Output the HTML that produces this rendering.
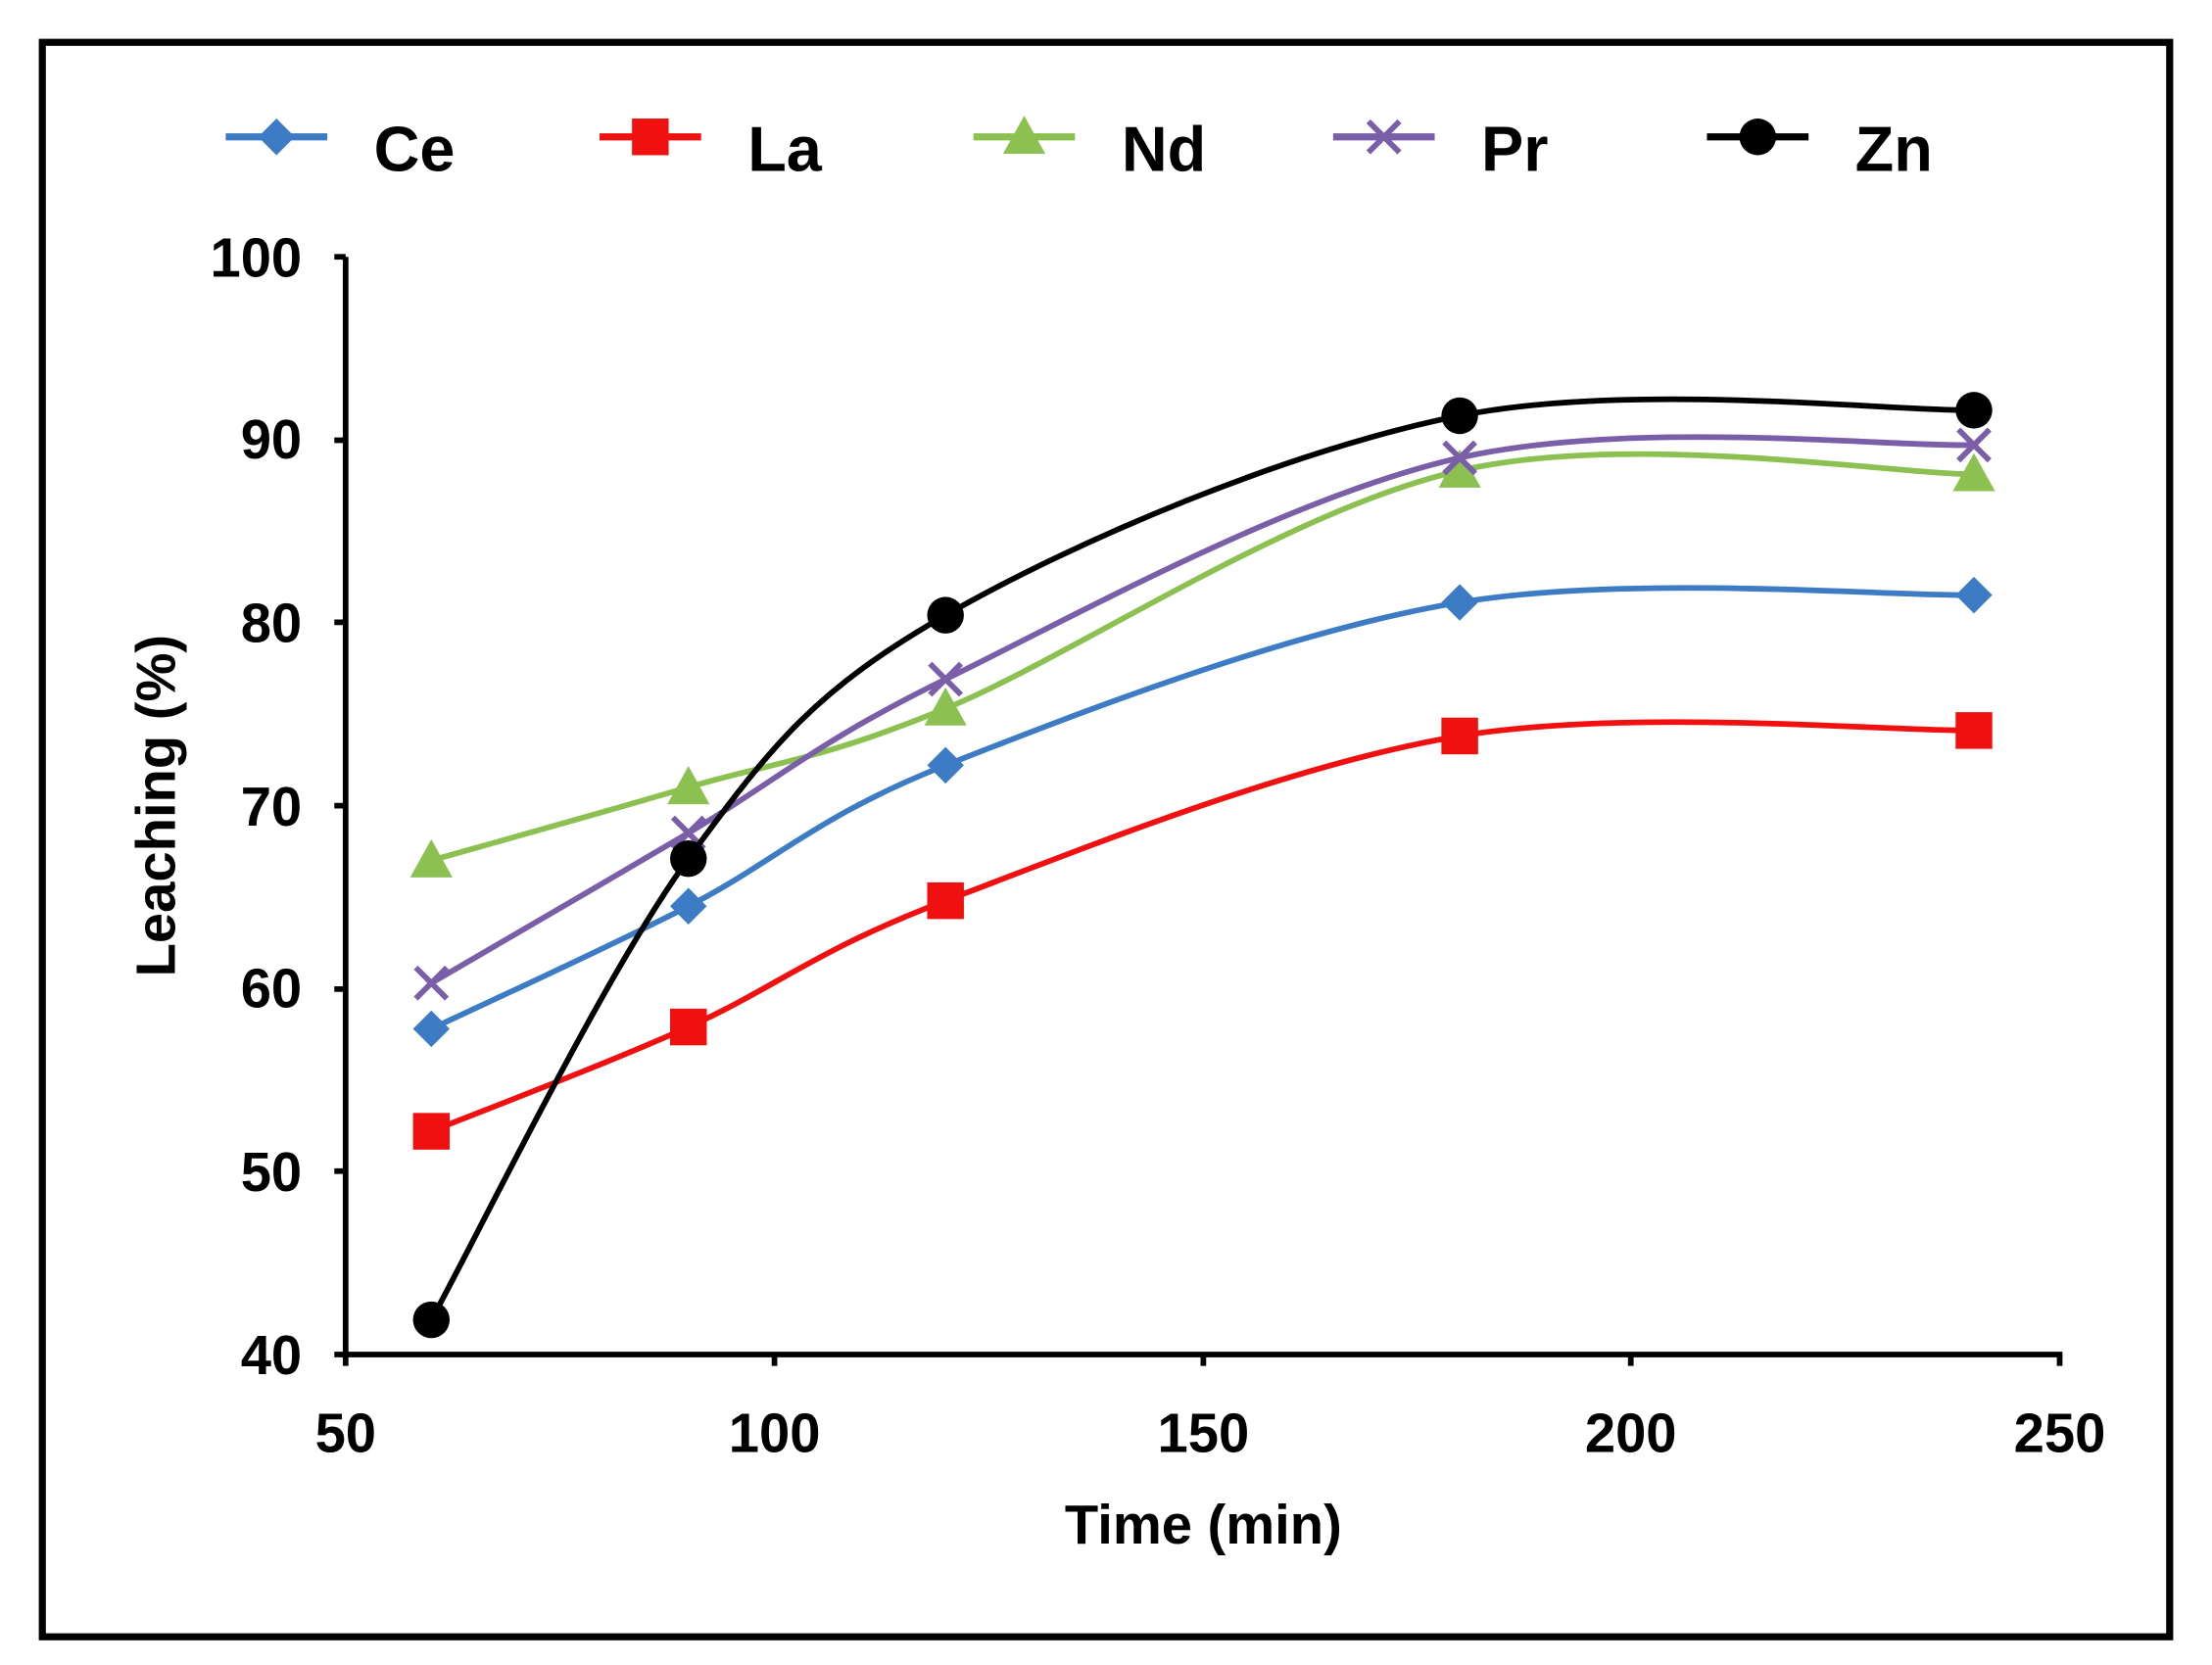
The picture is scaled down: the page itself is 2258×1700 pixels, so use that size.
<!DOCTYPE html>
<html><head><meta charset="utf-8"><style>
html,body{margin:0;padding:0;background:#fff;}
svg{display:block;}
text{font-family:"Liberation Sans",Arial,sans-serif;font-weight:bold;fill:#000;}
</style></head><body>
<svg id="s" width="2258" height="1700" viewBox="0 0 1568 1180" preserveAspectRatio="none" xmlns="http://www.w3.org/2000/svg">
<rect x="30" y="30" width="1508" height="1130" fill="none" stroke="#000" stroke-width="5"/>
<g id="axes" stroke="#000" stroke-width="4" fill="none">
<line x1="245" y1="182" x2="245" y2="968"/>
<line x1="237" y1="960" x2="1462" y2="960"/>
<path d="M237,182H245M237,312H245M237,441H245M237,571H245M237,701H245M237,830H245M549,960V968M853,960V968M1156,960V968M1460,960V968"/>
</g>
<g font-size="39" text-anchor="end">
<text x="214" y="974">40</text><text x="214" y="844">50</text><text x="214" y="714">60</text>
<text x="214" y="585">70</text><text x="214" y="455">80</text><text x="214" y="325">90</text><text x="214" y="196">100</text>
</g>
<g font-size="39" text-anchor="middle">
<text x="245" y="1029">50</text><text x="549" y="1029">100</text><text x="853" y="1029">150</text>
<text x="1156" y="1029">200</text><text x="1460" y="1029">250</text>
</g>
<text x="853" y="1094" font-size="39" text-anchor="middle">Time (min)</text>
<text transform="translate(124,571) rotate(-90)" font-size="39" text-anchor="middle">Leaching (%)</text>
<g id="series"></g>
<g id="legend" font-size="45"></g>
</svg>
<script>
var ns="http://www.w3.org/2000/svg";
function X(t){return 245+(t-50)*6.075;}
function Y(v){return 960-(v-40)*12.97;}
var T=[60,90,120,180,240];
var S=[
{n:"Ce",c:"#3d7cc4",m:"d",d:[57.8,64.5,72.2,81.1,81.5]},
{n:"La",c:"#f01010",m:"s",d:[52.2,57.9,64.8,73.8,74.1]},
{n:"Nd",c:"#8cc152",m:"t",d:[67,71,75.3,88.3,88.1]},
{n:"Pr",c:"#7a5ea8",m:"x",d:[60.3,68.5,76.9,89,89.7]},
{n:"Zn",c:"#000",m:"o",d:[41.9,67.1,80.4,91.3,91.6]}];
var g=document.getElementById("series"),L=document.getElementById("legend");
function el(tag,a,p){var e=document.createElementNS(ns,tag);for(var k in a)e.setAttribute(k,a[k]);p.appendChild(e);return e;}
function marker(m,x,y,c,p){
 if(m=="d")el("polygon",{points:(x)+","+(y-13)+" "+(x+13)+","+y+" "+x+","+(y+13)+" "+(x-13)+","+y,fill:c},p);
 if(m=="s")el("rect",{x:x-13,y:y-13,width:26,height:26,fill:c},p);
 if(m=="t")el("polygon",{points:x+","+(y-15)+" "+(x+15)+","+(y+12)+" "+(x-15)+","+(y+12),fill:c},p);
 if(m=="x"){el("path",{d:"M"+(x-11)+","+(y-11)+"L"+(x+11)+","+(y+11)+"M"+(x+11)+","+(y-11)+"L"+(x-11)+","+(y+11),stroke:c,"stroke-width":4},p);}
 if(m=="o")el("circle",{cx:x,cy:y,r:13,fill:c},p);
}
S.forEach(function(s,i){
 var P=T.map(function(t,j){return [X(t),Y(s.d[j])];});
 var d="M"+P[0][0]+","+P[0][1];
 for(var k=0;k<P.length-1;k++){
  var p0=P[Math.max(k-1,0)],p1=P[k],p2=P[k+1],p3=P[Math.min(k+2,P.length-1)],f=6;
  d+="C"+(p1[0]+(p2[0]-p0[0])/f)+","+(p1[1]+(p2[1]-p0[1])/f)+" "+(p2[0]-(p3[0]-p1[0])/f)+","+(p2[1]-(p3[1]-p1[1])/f)+" "+p2[0]+","+p2[1];
 }
 el("path",{d:d,fill:"none",stroke:s.c,"stroke-width":4},g);
 P.forEach(function(p){marker(s.m,p[0],p[1],s.c,g);});
 var lx=[160,425,690,945,1210][i],ly=97;
 el("line",{x1:lx,y1:ly,x2:lx+72,y2:ly,stroke:s.c,"stroke-width":5},L);
 marker(s.m,lx+36,ly,s.c,L);
 var t=el("text",{x:lx+105,y:ly+24},L);t.textContent=s.n;
});
</script>
</body></html>
